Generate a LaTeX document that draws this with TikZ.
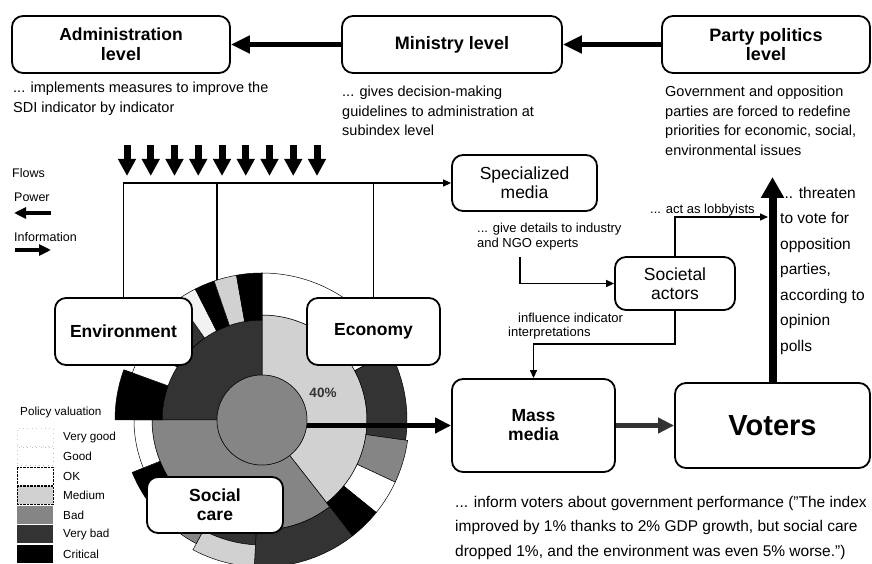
\documentclass[tikz,border=0pt]{standalone}
\usepackage{fontspec}
\setmainfont{Liberation Sans}
\usetikzlibrary{arrows.meta}

% valuation shades
\colorlet{vgoodc}{white}
\colorlet{goodc}{black!5}
\colorlet{okc}{white}
\colorlet{mediumc}{black!18}
\colorlet{badc}{black!48}
\colorlet{vbadc}{black!80}
\colorlet{critc}{black}

% annular sector: start angle, end angle, inner radius, outer radius, fill
\newcommand\annseg[5]{%
  \filldraw[fill=#5, draw=black, line width=0.5pt]
    (#1:#3) arc[start angle=#1, end angle=#2, radius=#3]
    -- (#2:#4) arc[start angle=#2, end angle=#1, radius=#4] -- cycle;}

\begin{document}
\begin{tikzpicture}[x=1pt, y=1pt,
  font=\fontsize{14.5}{19.5}\selectfont,
  box/.style={draw, line width=1.8pt, rounded corners=11pt, fill=white, align=center, inner sep=2pt},
  ttl/.style={font=\fontsize{18}{19.5}\selectfont\bfseries},
  sub/.style={font=\fontsize{17.5}{19}\selectfont\bfseries},
  plain/.style={font=\fontsize{17.5}{19}\selectfont},
  txt/.style={align=left, anchor=north west, inner sep=0pt},
  small/.style={font=\fontsize{13}{15}\selectfont},
  power/.style={line width=5pt, -{Triangle[length=19pt,width=17pt]}},
  bigpower/.style={line width=8pt, -{Triangle[length=21pt,width=22pt]}},
  downpower/.style={line width=7pt, -{Triangle[length=17pt,width=17pt]}},
  info/.style={line width=5pt, -{Triangle[length=16pt,width=15pt]}},
  legarrow/.style={line width=4.5pt, -{Triangle[length=12pt,width=11pt]}},
  conn/.style={line width=1.3pt, -{Triangle[length=8pt,width=7pt]}},
  bus/.style={line width=1.3pt},
  leg/.style={font=\fontsize{11.7}{12}\selectfont, anchor=west, inner sep=0pt},
  swatch/.style={minimum width=36pt, minimum height=18pt, inner sep=0pt}
]
\useasboundingbox (0,0) rectangle (872,564);

% ---------- sunburst of policy valuations ----------
\begin{scope}[shift={(262,144)}]
  % subindex ring
  \annseg{-52}{90}{45}{105}{mediumc}
  \annseg{90}{180}{45}{100}{vbadc}
  \annseg{180}{308}{45}{110}{badc}
  % economy indicators
  \annseg{28}{90}{105}{147}{vgoodc}
  \annseg{-8}{28}{105}{145}{vbadc}
  \annseg{-25}{-8}{105}{147}{badc}
  \annseg{-39}{-25}{105}{147}{okc}
  \annseg{-52}{-39}{105}{147}{critc}
  % social care indicators
  \annseg{-93}{-52}{110}{147}{vbadc}
  \annseg{-118}{-93}{110}{125}{vbadc}
  \annseg{-118}{-93}{125}{147}{mediumc}
  \annseg{-140}{-118}{110}{140}{badc}
  \annseg{-158}{-140}{110}{140}{critc}
  \annseg{-180}{-158}{110}{128}{okc}
  % environment indicators
  \annseg{160}{180}{100}{147}{critc}
  \annseg{148}{160}{100}{138}{vgoodc}
  \annseg{125}{148}{100}{140}{vbadc}
  \annseg{117}{125}{100}{147}{goodc}
  \annseg{109}{117}{100}{147}{critc}
  \annseg{100}{109}{100}{147}{mediumc}
  \annseg{90}{100}{100}{147}{critc}
\end{scope}
\node[circle, minimum size=90pt, inner sep=0pt, fill=badc, draw, line width=0.5pt] (core) at (262,144) {};
\node[font=\fontsize{13.5}{14}\selectfont\bfseries, text=black!80] (pct) at (323,171) {40\%};

% ---------- boxes ----------
\node[box, ttl, minimum width=218pt, minimum height=57pt] (admin) at (121,519.5) {\fontsize{17.5}{19}\selectfont Administration\\level};
\node[box, ttl, minimum width=220pt, minimum height=57pt] (min) at (452,519.5) {Ministry level};
\node[box, ttl, minimum width=208pt, minimum height=57pt] (party) at (766,519.5) {Party politics\\level};
\node[box, plain, minimum width=145pt, minimum height=56pt] (spec) at (524.5,381) {Specialized\\media};
\node[box, plain, minimum width=120pt, minimum height=53pt] (soc) at (675,280.5) {Societal\\actors};
\node[box, sub, minimum width=137pt, minimum height=67pt] (env) at (123.5,232.5) {Environment};
\node[box, sub, minimum width=133pt, minimum height=67pt] (econ) at (373.5,232.5) {Economy};
\node[box, sub, minimum width=136pt, minimum height=56pt] (scare) at (215,59) {Social\\care};
\node[box, sub, minimum width=163pt, minimum height=93pt] (mass) at (533.5,138.5) {Mass\\media};
\node[box, minimum width=195pt, minimum height=85pt, font=\fontsize{29}{30}\selectfont\bfseries] (vot) at (772.5,138.5) {Voters};

% ---------- texts ----------
\node[txt] (admtxt) at (13,482) {... implements measures to improve the\\SDI indicator by indicator};
\node[txt] (mintxt) at (342,478) {... gives decision-making\\guidelines to administration at\\subindex level};
\node[txt] (partytxt) at (665,478) {Government and opposition\\parties are forced to redefine\\priorities for economic, social,\\environmental issues};
\node[txt, small] (spectxt) at (477,341) {... give details to industry\\and NGO experts};
\node[small, anchor=west, inner sep=0pt] (lobtxt) at (650,354) {... act as lobbyists};
\node[txt, small, font=\fontsize{13}{14}\selectfont] (inftxt) at (508,251) {\hspace*{10pt}influence indicator\\interpretations};
\node[txt, font=\fontsize{15.5}{25.5}\selectfont] (threat) at (780,377) {... threaten\\to vote for\\opposition\\parties,\\according to\\opinion\\polls};
\node[txt, font=\fontsize{15.5}{24.5}\selectfont] (inform) at (455,68) {... inform voters about government performance ("The index\\improved by 1\% thanks to 2\% GDP growth, but social care\\dropped 1\%, and  the environment was even 5\% worse.")};

% ---------- flow legend ----------
\node[leg, font=\fontsize{12.5}{13}\selectfont] (flows) at (12,391) {Flows};
\node[leg, font=\fontsize{12.5}{13}\selectfont] (powlab) at (14,367) {Power};
\node[leg, font=\fontsize{12.5}{13}\selectfont] (inflab) at (14,327) {Information};
\coordinate (pwA) at (51,351);
\coordinate (pwB) at (14,351);
\coordinate (ifA) at (15,314);
\coordinate (ifB) at (51,314);
\draw[legarrow] (pwA) -- (pwB);
\draw[legarrow] (ifA) -- (ifB);

% ---------- valuation legend ----------
\node[leg] (polval) at (20,152) {Policy valuation};
\node[swatch, draw=black!20, loosely dotted] (s1) at (35,127) {};
\node[swatch, draw=black!25, loosely dotted] (s2) at (35,107.5) {};
\node[swatch, draw=black, densely dotted, fill=okc] (s3) at (35,88) {};
\node[swatch, draw=black, densely dotted, fill=mediumc] (s4) at (35,68.5) {};
\node[swatch, fill=badc] (s5) at (35,49) {};
\node[swatch, fill=vbadc] (s6) at (35,29.5) {};
\node[swatch, fill=critc] (s7) at (35,10) {};
\node[leg] at (63,127) {Very good};
\node[leg] at (63,107.5) {Good};
\node[leg] at (63,88) {OK};
\node[leg] at (63,68.5) {Medium};
\node[leg] at (63,49) {Bad};
\node[leg] at (63,29.5) {Very bad};
\node[leg] at (63,10) {Critical};

% ---------- power flows ----------
\draw[power] (min.west) -- (admin.east);
\draw[power] (party.west) -- (min.east);
\foreach \i in {0,...,8} {
  \coordinate (d\i) at (127+23.75*\i,419);
  \draw[downpower] (d\i) -- ++(0,-31);
}
\coordinate (threattip) at (772.5,387);
\draw[bigpower] (vot.north) -- (threattip);

% ---------- information flows ----------
\coordinate (pietop) at (217,284);
\draw[conn] (env.north) |- (spec.west);
\draw[bus] (econ.north) -- (econ.north |- spec.west);
\draw[bus] (pietop) -- (pietop |- spec.west);
\draw[info] (core.east |- mass.west) -- (mass.west);
\draw[info, black!80] (mass.east) -- (vot.west |- mass.east);
\coordinate (gd) at (520,307);
\draw[conn] (gd) |- (soc.west);
\coordinate (lobend) at (768,347);
\draw[conn] (soc.north) |- (lobend);
\draw[conn] (soc.south) -- ++(0,-33) -| (mass.north);
\end{tikzpicture}
\end{document}
